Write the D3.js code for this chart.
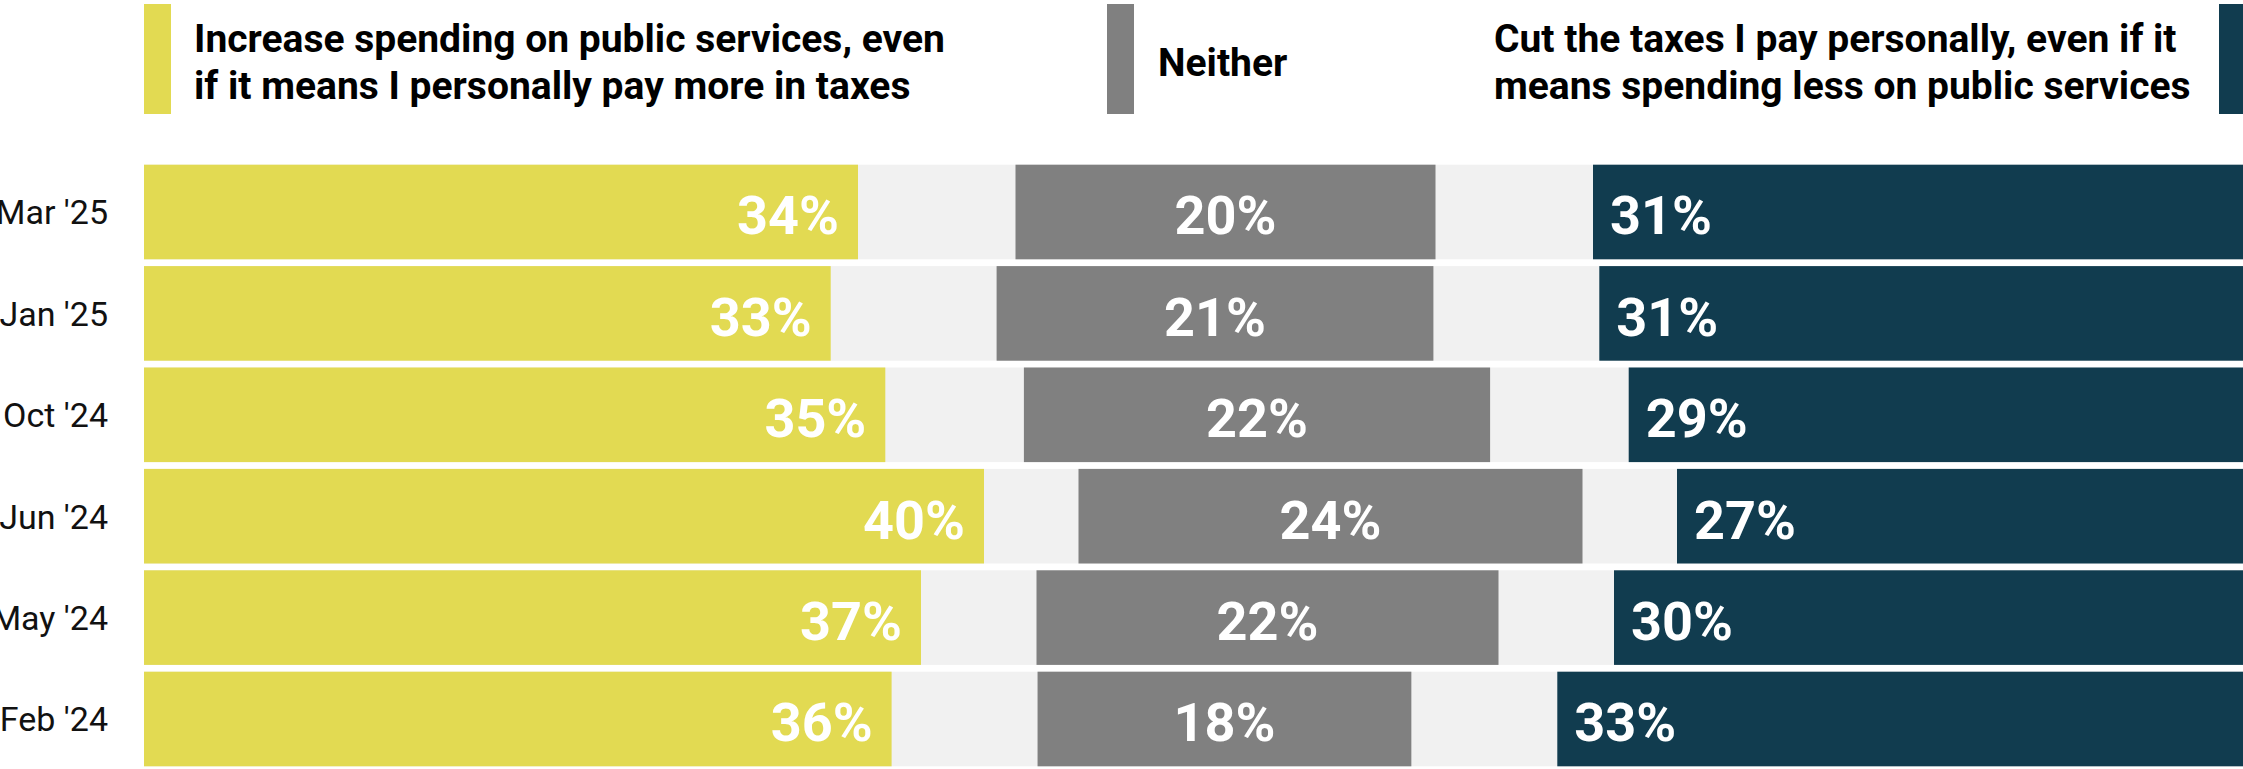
<!DOCTYPE html>
<html>
<head>
<meta charset="utf-8">
<script src="https://cdn.jsdelivr.net/npm/d3@7"></script>
<style>
  html, body { margin: 0; padding: 0; background: #fff; }
  svg { display: block; font-family: Roboto, "Open Sans", sans-serif; }
</style>
</head>
<body>
<svg id="canvas" width="2243" height="769"></svg>
<script>
// survey waves, newest first
let waves = ["Mar '25", "Jan '25", "Oct '24", "Jun '24", "May '24", "Feb '24"]

// shares in %, the rest is "don't know" (shown as the light gaps)
let increaseSpend = [34.0, 32.7, 35.3, 40.0, 37.0, 35.6]
let neither = [20.0, 20.8, 22.2, 24.0, 22.0, 17.8]
let cutTaxes = [31.0, 30.7, 29.3, 27.0, 30.0, 32.7]

let legendLines = [
  ['Increase spending on public services, even', 'if it means I personally pay more in taxes'],
  ['Neither'],
  ['Cut the taxes I pay personally, even if it', 'means spending less on public services']
]

let colors = { inc: '#e2da52', neither: '#808080', cut: '#113c4f', track: '#f1f1f1' }

let canvas = d3.select('#canvas')

let rows = waves.map((w, i) => {
  let dk = 100 - increaseSpend[i] - neither[i] - cutTaxes[i]
  return {
    wave: w,
    inc: increaseSpend[i],
    neither: neither[i],
    cut: cutTaxes[i],
    nStart: increaseSpend[i] + dk / 2
  }
})

let x = d3.scaleLinear().domain([0, 100]).range([144, 2244])
let y = d3.scaleBand()
  .domain(waves)
  .range([161.3, 161.3 + 6 * 101.4])
  .paddingInner(0.067)
  .paddingOuter(0.0335)

let bh = y.bandwidth()
let fmt = v => Math.round(v) + '%'

// ---- legend ----
let legendPos = [
  { sw: 144, tx: 194, color: colors.inc },
  { sw: 1107, tx: 1158, color: colors.neither },
  { sw: 2219, tx: 1494, color: colors.cut }
]
let legend = canvas.append('g').attr('class', 'legend')
legendLines.forEach((lines, i) => {
  let p = legendPos[i]
  legend.append('rect')
    .attr('x', p.sw).attr('y', 4)
    .attr('width', 27).attr('height', 110)
    .attr('fill', p.color)
  let t = legend.append('text')
    .attr('font-size', 39)
    .attr('font-weight', 700)
    .attr('fill', '#000')
  if (lines.length === 1) {
    t.append('tspan').attr('x', p.tx).attr('y', 76).text(lines[0])
  } else {
    lines.forEach((l, j) => {
      t.append('tspan').attr('x', p.tx).attr('y', 51.7 + j * 47.6).text(l)
    })
  }
})

// ---- rows ----
let row = canvas.selectAll('g.row')
  .data(rows)
  .enter()
  .append('g')
  .attr('class', 'row')
  .attr('transform', d => 'translate(0,' + y(d.wave) + ')')

row.append('rect')
  .attr('x', x(0))
  .attr('width', x(100) - x(0))
  .attr('height', bh)
  .attr('fill', colors.track)

row.append('rect')
  .attr('x', x(0))
  .attr('width', d => x(d.inc) - x(0))
  .attr('height', bh)
  .attr('fill', colors.inc)

row.append('rect')
  .attr('x', d => x(d.nStart))
  .attr('width', d => x(d.nStart + d.neither) - x(d.nStart))
  .attr('height', bh)
  .attr('fill', colors.neither)

row.append('rect')
  .attr('x', d => x(100 - d.cut))
  .attr('width', d => x(100) - x(100 - d.cut))
  .attr('height', bh)
  .attr('fill', colors.cut)

// value labels
let lblY = bh / 2 + 22.5
row.append('text')
  .attr('x', d => x(d.inc) - 19)
  .attr('y', lblY)
  .attr('text-anchor', 'end')
  .attr('class', 'val')
  .text(d => fmt(d.inc))

row.append('text')
  .attr('x', d => x(d.nStart + d.neither / 2))
  .attr('y', lblY)
  .attr('text-anchor', 'middle')
  .attr('class', 'val')
  .text(d => fmt(d.neither))

row.append('text')
  .attr('x', d => x(100 - d.cut) + 17)
  .attr('y', lblY)
  .attr('text-anchor', 'start')
  .attr('class', 'val')
  .text(d => fmt(d.cut))

canvas.selectAll('text.val')
  .attr('fill', '#fff')
  .attr('font-size', 54)
  .attr('font-weight', 700)

// wave labels on the left
row.append('text')
  .attr('x', 108)
  .attr('y', bh / 2 + 12.5)
  .attr('text-anchor', 'end')
  .attr('font-size', 34)
  .attr('fill', '#111')
  .text(d => d.wave)
</script>
</body>
</html>
